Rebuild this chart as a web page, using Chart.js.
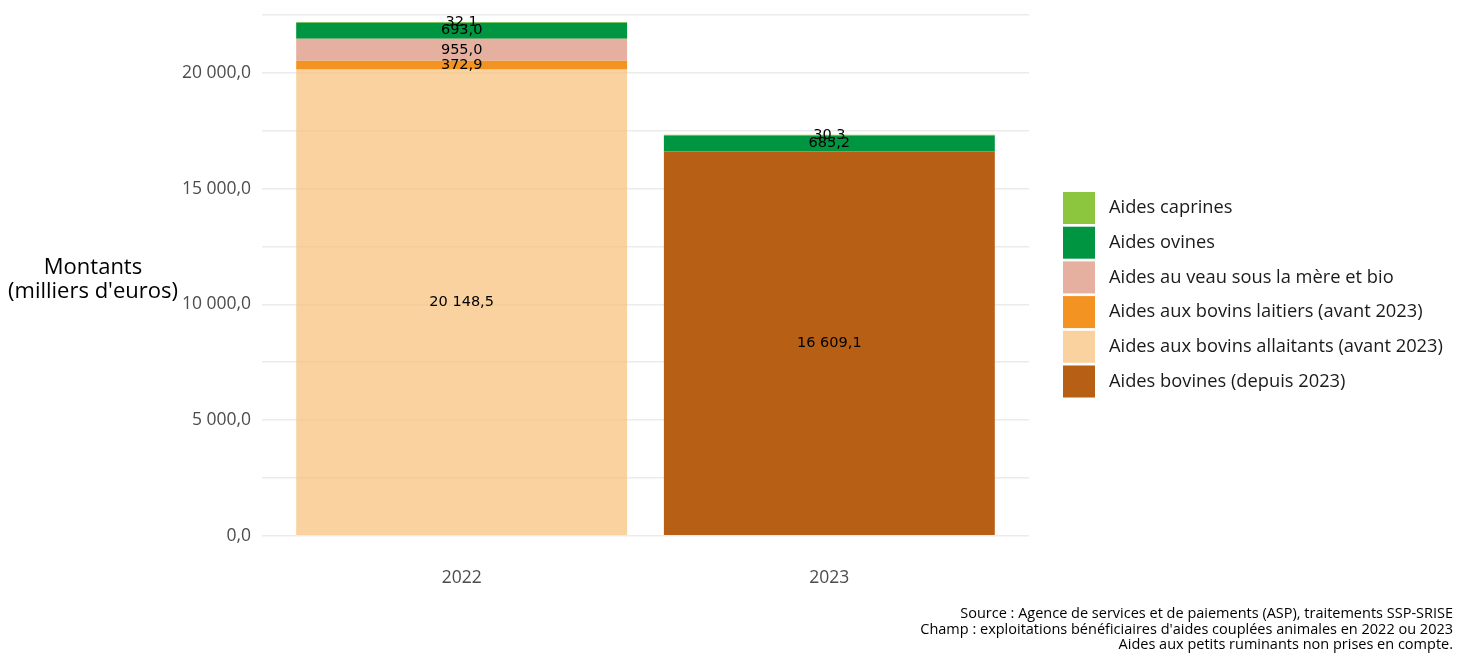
<!DOCTYPE html>
<html>
<head>
<meta charset="utf-8">
<script src="https://cdn.jsdelivr.net/npm/chart.js@4/dist/chart.umd.min.js"></script>
<style>
  body { margin: 0; background: #fff; }
  #wrap { width: 1461px; height: 653px; position: relative; }
</style>
</head>
<body>
<div id="wrap"><canvas id="aidesChart"></canvas></div>
<script>
// --- data (milliers d'euros) ---
const years = ['2022', '2023'];
const bovines = [0, 16609.1];
const allaitants = [20148.5, 0];
const laitiers = [372.9, 0];
const veau = [955.0, 0];
const ovines = [693.0, 685.2];
const caprines = [32.1, 30.3];
const yTickValues = [0, 2500, 5000, 7500, 10000, 12500, 15000, 17500, 20000, 22500];

const FONT = "'Open Sans', sans-serif";

// french number format: 20 148,5
function frNum(v) {
    const parts = v.toFixed(1).split('.');
    return parts[0].replace(/\B(?=(\d{3})+(?!\d))/g, ' ') + ',' + parts[1];
}

function toPoints(arr) {
    return arr.map((v, i) => ({ x: i, y: v === 0 ? null : v }));
}

// stacked bottom -> top
const series = [
    { label: 'Aides bovines (depuis 2023)', values: bovines, color: '#b85f16' },
    { label: 'Aides aux bovins allaitants (avant 2023)', values: allaitants, color: 'rgba(247,195,128,0.75)' },
    { label: 'Aides aux bovins laitiers (avant 2023)', values: laitiers, color: '#f39322' },
    { label: 'Aides au veau sous la mère et bio', values: veau, color: '#e6b0a0' },
    { label: 'Aides ovines', values: ovines, color: '#009540' },
    { label: 'Aides caprines', values: caprines, color: '#8cc63f' }
];

// value labels in the middle of each segment
const segmentLabels = {
    id: 'segmentLabels',
    afterDatasetsDraw(chart) {
        const ctx = chart.ctx;
        ctx.save();
        ctx.font = "14.5px 'DejaVu Sans', sans-serif";
        ctx.fillStyle = '#000';
        ctx.textAlign = 'center';
        ctx.textBaseline = 'middle';
        chart.data.datasets.forEach((ds, di) => {
            const meta = chart.getDatasetMeta(di);
            meta.data.forEach((el, i) => {
                const v = series[di].values[i];
                if (!v) return;
                ctx.fillText(frNum(v), el.x, (el.y + el.base) / 2);
            });
        });
        ctx.restore();
    }
};

// y title, legend and caption
const extras = {
    id: 'extras',
    afterDraw(chart) {
        const ctx = chart.ctx;
        ctx.save();

        // axis title (horizontal)
        ctx.fillStyle = '#000';
        ctx.textAlign = 'center';
        ctx.textBaseline = 'middle';
        ctx.font = '22px ' + FONT;
        ctx.fillText('Montants', 93, 268);
        ctx.fillText("(milliers d'euros)", 93, 292);

        // legend, top to bottom = reverse of stack
        const items = series.slice().reverse();
        let y = 192;
        ctx.textAlign = 'left';
        ctx.font = '18.3px ' + FONT;
        items.forEach(item => {
            ctx.fillStyle = item.color;
            ctx.fillRect(1063, y, 32, 32);
            ctx.fillStyle = '#1a1a1a';
            ctx.fillText(item.label, 1109, y + 16);
            y += 34.7;
        });

        // source / notes
        ctx.textAlign = 'right';
        ctx.fillStyle = '#000';
        ctx.font = '14.5px ' + FONT;
        ctx.fillText('Source : Agence de services et de paiements (ASP), traitements SSP-SRISE', 1453, 614);
        ctx.fillText("Champ : exploitations bénéficiaires d'aides couplées animales en 2022 ou 2023", 1453, 630);
        ctx.fillText('Aides aux petits ruminants non prises en compte.', 1453, 645);

        ctx.restore();
    }
};

const ctx = document.getElementById('aidesChart').getContext('2d');
new Chart(ctx, {
    type: 'bar',
    data: {
        datasets: series.map(s => ({
            label: s.label,
            data: toPoints(s.values),
            backgroundColor: s.color,
            borderWidth: 0,
            barPercentage: 0.9,
            categoryPercentage: 1
        }))
    },
    options: {
        responsive: true,
        maintainAspectRatio: false,
        animation: false,
        layout: { padding: { top: 0, right: 432, bottom: 0, left: 0 } },
        scales: {
            x: {
                type: 'linear',
                stacked: true,
                offset: false,
                min: -0.543,
                max: 1.543,
                grid: { display: false, drawTicks: false },
                border: { display: false },
                afterBuildTicks: scale => { scale.ticks = years.map((y, i) => ({ value: i })); },
                afterFit: scale => {
                    scale.height = 95;
                    scale.paddingLeft = 0;
                    scale.paddingRight = 0;
                },
                ticks: {
                    callback: (v, i) => years[i],
                    color: '#4d4d4d',
                    font: { family: FONT, size: 17.5 },
                    padding: 10,
                    maxRotation: 0
                }
            },
            y: {
                stacked: true,
                min: -960,
                max: 23150,
                grid: { color: '#ebebeb', lineWidth: 1.5, drawTicks: false },
                border: { display: false },
                afterBuildTicks: scale => { scale.ticks = yTickValues.map(v => ({ value: v })); },
                afterFit: scale => {
                    scale.width = 262;
                    scale.paddingTop = 0;
                    scale.paddingBottom = 0;
                },
                ticks: {
                    callback: v => (v % 5000 === 0 ? frNum(v) : ''),
                    color: '#4d4d4d',
                    font: { family: FONT, size: 17.5 },
                    padding: 11
                }
            }
        },
        plugins: {
            legend: { display: false },
            tooltip: { enabled: false }
        }
    },
    plugins: [segmentLabels, extras]
});
</script>
</body>
</html>
